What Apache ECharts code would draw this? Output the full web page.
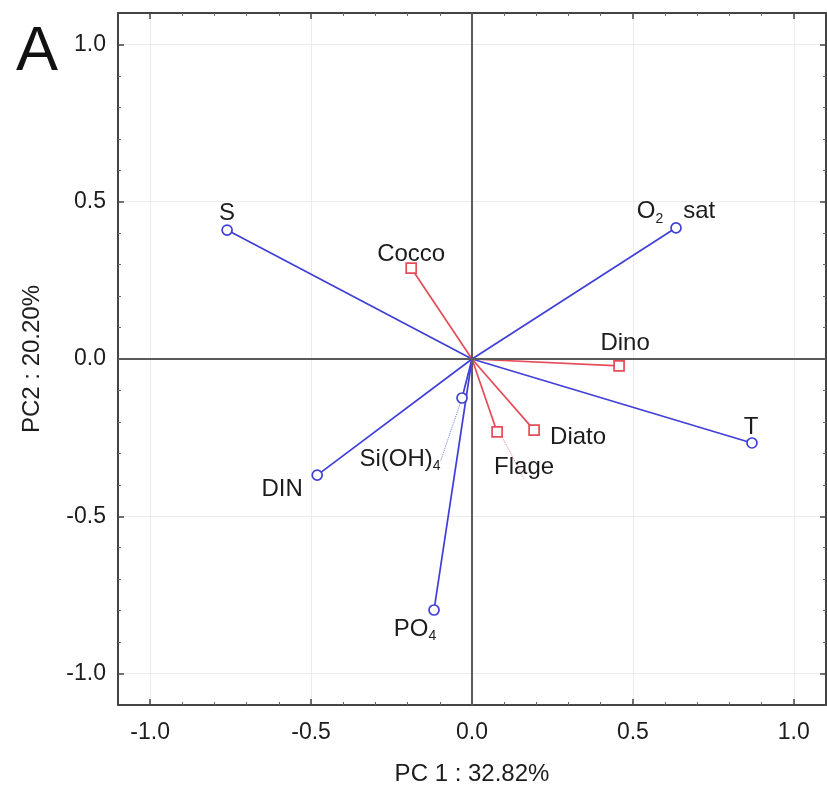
<!DOCTYPE html>
<html>
<head>
<meta charset="utf-8">
<script src="https://cdn.jsdelivr.net/npm/echarts@6/dist/echarts.min.js"></script>
<style>
  html, body { margin: 0; padding: 0; background: #fff; }
  #chart { width: 827px; height: 788px; }
</style>
</head>
<body>
<div id="chart"></div>
<script>
// Environmental variables: loadings on PC1 / PC2
const envNames = ['S', 'O2 sat', 'T', 'DIN', 'Si(OH)4', 'PO4'];
const envLabels = ['S', 'O{sub|2}   sat', 'T', 'DIN', 'Si(OH){sub|4}', 'PO{sub|4}'];
const envPC1 = [-0.761, 0.634, 0.870, -0.481, -0.031, -0.118];
const envPC2 = [0.410, 0.417, -0.267, -0.369, -0.124, -0.798];

// Phytoplankton groups projected as supplementary variables
const grpNames = ['Cocco', 'Dino', 'Diato', 'Flage'];
const grpPC1 = [-0.189, 0.457, 0.193, 0.078];
const grpPC2 = [0.289, -0.022, -0.226, -0.232];

// Axis titles
const xTitle = 'PC 1 : 32.82%';
const yTitle = 'PC2 : 20.20%';
const panelTag = 'A';

// Label placement (pixel offsets from each marker)
const labelOffset = {
  'S': [0, -17], 'O2 sat': [0, -16], 'T': [-1, -16], 'DIN': [-35, 14],
  'Si(OH)4': [-62, 61], 'PO4': [-19, 19],
  'Cocco': [0, -14], 'Dino': [6, -23], 'Diato': [44, 7], 'Flage': [27, 35]
};
// Labels that get a dotted leader back to their marker
const leaderNames = ['Si(OH)4', 'Flage'];

const BLUE = '#3f3fd8';
const RED = '#e64b58';
const FONT = '"Liberation Sans", Arial, sans-serif';
const TEXT = '#1c1c1c';

const labelStyle = {
  show: true,
  position: 'inside',
  color: TEXT,
  fontSize: 24,
  fontFamily: FONT,
  textBorderWidth: 0,
  rich: {
    sub: { fontSize: 14, fontFamily: FONT, color: TEXT, padding: [14, 0, 0, 0] }
  }
};

function vectorSeries(names, xs, ys, color) {
  return names.map((n, i) => ({
    type: 'line',
    name: n,
    data: [[0, 0], [xs[i], ys[i]]],
    showSymbol: false,
    symbol: 'none',
    lineStyle: { color: color, width: 1.7 },
    silent: true,
    z: 3
  }));
}

function markerSeries(names, labels, xs, ys, color, symbol) {
  return {
    type: 'scatter',
    symbol: symbol,
    symbolSize: 10,
    itemStyle: { color: '#fff', borderColor: color, borderWidth: 1.7, opacity: 1 },
    data: names.map((n, i) => ({
      value: [xs[i], ys[i]],
      label: Object.assign({}, labelStyle, {
        offset: labelOffset[n],
        formatter: labels[i]
      }),
      labelLine: {
        show: leaderNames.includes(n),
        lineStyle: { color: color, width: 1, type: 'dotted', opacity: 0.7 }
      }
    })),
    z: 5
  };
}

function frameAxis(position, showLabels, nameText, nameGap) {
  return {
    type: 'value',
    position: position,
    min: -1.1,
    max: 1.1,
    splitNumber: 4,
    name: showLabels ? nameText : '',
    nameLocation: 'middle',
    nameGap: nameGap,
    nameTextStyle: { fontSize: 24, color: TEXT, fontFamily: FONT },
    axisLine: { show: true, onZero: false, lineStyle: { color: '#444', width: 2 } },
    axisTick: { show: true, inside: true, length: 6, lineStyle: { color: '#444', width: 1.5 } },
    minorTick: { show: true, splitNumber: 5, length: 3, lineStyle: { color: '#666', width: 1 } },
    splitLine: { show: showLabels, lineStyle: { color: '#ececec', width: 1 } },
    axisLabel: {
      show: showLabels,
      showMinLabel: false,
      showMaxLabel: false,
      fontSize: 23,
      color: TEXT,
      fontFamily: FONT,
      margin: position === 'bottom' ? 16 : 12,
      formatter: v => v.toFixed(1)
    }
  };
}

const chart = echarts.init(document.getElementById('chart'), null, { renderer: 'canvas' });

const series = [
  {
    type: 'line',
    data: [],
    silent: true,
    markLine: {
      silent: true,
      symbol: 'none',
      label: { show: false },
      lineStyle: { color: '#5a5a5a', width: 2, type: 'solid' },
      data: [{ xAxis: 0 }, { yAxis: 0 }]
    },
    z: 1
  },
  ...vectorSeries(envNames, envPC1, envPC2, BLUE),
  ...vectorSeries(grpNames, grpPC1, grpPC2, RED),
  markerSeries(envNames, envLabels, envPC1, envPC2, BLUE, 'circle'),
  markerSeries(grpNames, grpNames, grpPC1, grpPC2, RED, 'rect')
];

chart.setOption({
  animation: false,
  backgroundColor: '#fff',
  grid: { left: 118, top: 13, right: 1, bottom: 83, outerBoundsMode: 'none', containLabel: false },
  xAxis: [
    frameAxis('bottom', true, xTitle, 57),
    frameAxis('top', false, '', 0)
  ],
  yAxis: [
    frameAxis('left', true, yTitle, 74),
    frameAxis('right', false, '', 0)
  ],
  graphic: [{
    type: 'text',
    left: 16,
    top: 21,
    style: { text: panelTag, fontSize: 63, fontFamily: FONT, fill: '#111' }
  }],
  series: series
});
</script>
</body>
</html>
